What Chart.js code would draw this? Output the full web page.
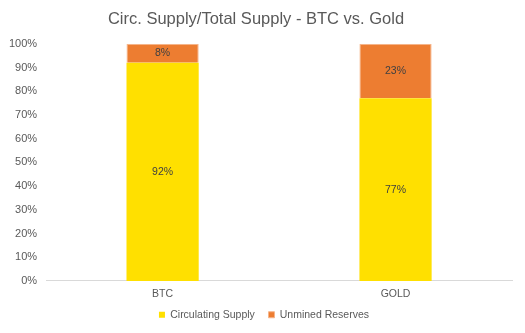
<!DOCTYPE html>
<html>
<head>
<meta charset="utf-8">
<script src="https://cdn.jsdelivr.net/npm/chart.js@4"></script>
<style>
  html, body { margin:0; padding:0; background:#fff; }
  #wrap { width:525px; height:333px; }
</style>
</head>
<body>
<div id="wrap"><canvas id="c"></canvas></div>
<script>
// circulating vs unmined share, in percent
const cats = ['BTC','GOLD'];
const circVals = [92,77];
const unminedVals = [8,23];

// draw "xx%" in the middle of each bar segment
const barLabels = {
  id:'barLabels',
  afterDatasetsDraw(chart){
    const ctx = chart.ctx;
    ctx.save();
    ctx.font = '10.5px "Liberation Sans", Arial, sans-serif';
    ctx.fillStyle = '#404040';
    ctx.textAlign = 'center';
    ctx.textBaseline = 'middle';
    chart.data.datasets.forEach((ds,i) => {
      chart.getDatasetMeta(i).data.forEach((bar,j) => {
        const mid = (bar.y + bar.base) / 2;
        ctx.fillText(ds.data[j] + '%', bar.x, mid);
      });
    });
    ctx.restore();
  }
};

// nudge the legend a bit right, like the original
const legendShift = {
  id:'legendShift',
  afterLayout(chart){
    if (chart.legend) { chart.legend.left += 8; chart.legend.right += 8; }
  }
};

Chart.defaults.font.family = '"Liberation Sans", Arial, sans-serif';
Chart.defaults.color = '#595959';

new Chart(document.getElementById('c'), {
  type:'bar',
  data:{
    labels:cats,
    datasets:[
      { label:'Circulating Supply', data:circVals, backgroundColor:'#ffe000', borderWidth:0 },
      { label:'Unmined Reserves', data:unminedVals, backgroundColor:'#ed7d31', borderColor:'#f6b58a', borderWidth:1 }
    ]
  },
  options:{
    responsive:true,
    maintainAspectRatio:false,
    animation:false,
    datasets:{ bar:{ categoryPercentage:1.0, barPercentage:0.31 } },
    layout:{ padding:{ left:0, right:13, top:6, bottom:3 } },
    plugins:{
      title:{ display:true, text:'Circ. Supply/Total Supply - BTC vs. Gold', font:{ size:16.5, weight:'normal' }, color:'#595959', padding:{ top:4, bottom:14 } },
      legend:{ position:'bottom', labels:{ boxWidth:6, boxHeight:6, font:{ size:10.5 }, padding:2,
        // small vertical padding, so widen the gap between items with trailing spaces
        generateLabels(chart){
          const items = Chart.defaults.plugins.legend.labels.generateLabels(chart);
          items.forEach((it,i) => { if (i < items.length - 1) it.text += '    '; });
          return items;
        } } },
      tooltip:{ enabled:false }
    },
    scales:{
      x:{ stacked:true, grid:{ display:false, drawTicks:false }, border:{ color:'#d9d9d9' },
          ticks:{ font:{ size:10.5 }, padding:7 } },
      y:{ stacked:true, min:0, max:100,
          grid:{ display:false, drawTicks:false }, border:{ display:false },
          ticks:{ stepSize:10, font:{ size:11 }, padding:9, callback:v => v + '%' } }
    }
  },
  plugins:[barLabels, legendShift]
});
</script>
</body>
</html>
